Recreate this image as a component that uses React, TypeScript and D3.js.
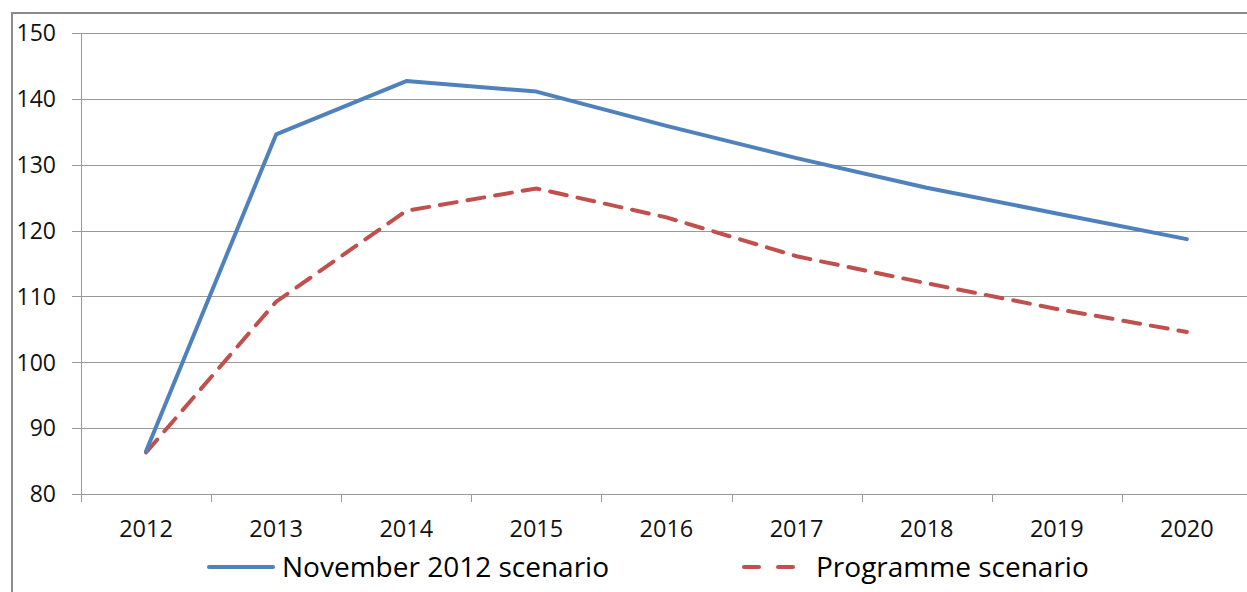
import { useEffect, useRef } from "react";
import * as d3 from "d3";

// Years on the x axis
const years = ["2012", "2013", "2014", "2015", "2016", "2017", "2018", "2019", "2020"];
// Series values
const november2012 = [86.5, 134.6, 142.7, 141.1, 135.9, 131.0, 126.5, 122.6, 118.7];
const programme = [86.3, 109.2, 123.0, 126.4, 122.0, 116.1, 112.0, 108.1, 104.6];
// Y axis ticks
const yTicks = [80, 90, 100, 110, 120, 130, 140, 150];

const seriesNames = ["November 2012 scenario", "Programme scenario"];

const LineChart = () => {
    const ref = useRef<SVGSVGElement | null>(null);

    useEffect(() => {
        if (!ref.current) return;
        const svg = d3.select(ref.current);
        svg.selectAll("*").remove();

        const width = 1247;
        const height = 592;
        const margin = { top: 33, left: 81, bottom: 98 };
        const band = 130.1;
        const font = "'Open Sans', sans-serif";

        const x = d3.scaleBand()
            .domain(years)
            .range([margin.left, margin.left + band * years.length]);

        const y = d3.scaleLinear()
            .domain([80, 150])
            .range([height - margin.bottom, margin.top]);

        // outer frame
        svg.append("path")
            .attr("d", `M12,${height + 5}V13H${width + 5}`)
            .attr("fill", "none")
            .attr("stroke", "#8c8c8c")
            .attr("stroke-width", 2);

        // gridlines
        svg.append("g")
            .selectAll("line")
            .data(yTicks)
            .enter().append("line")
            .attr("x1", margin.left - 9)
            .attr("x2", width + 5)
            .attr("y1", d => Math.round(y(d)) + 0.5)
            .attr("y2", d => Math.round(y(d)) + 0.5)
            .attr("stroke", "#9a9a9a")
            .attr("stroke-width", 1);

        // y axis line
        svg.append("line")
            .attr("x1", margin.left + 0.5)
            .attr("x2", margin.left + 0.5)
            .attr("y1", y(150))
            .attr("y2", y(80))
            .attr("stroke", "#9a9a9a");

        // x tick marks at band edges
        const edges = years.map(d => x(d) as number);
        svg.append("g")
            .selectAll("line")
            .data(edges)
            .enter().append("line")
            .attr("x1", d => Math.round(d) + 0.5)
            .attr("x2", d => Math.round(d) + 0.5)
            .attr("y1", y(80))
            .attr("y2", y(80) + 8)
            .attr("stroke", "#9a9a9a");

        // y labels
        svg.append("g")
            .selectAll("text")
            .data(yTicks)
            .enter().append("text")
            .attr("x", 56)
            .attr("y", d => y(d))
            .attr("dy", "0.36em")
            .attr("text-anchor", "end")
            .attr("font-family", font)
            .attr("font-size", 23)
            .attr("fill", "#111")
            .text(d => d);

        // x labels
        svg.append("g")
            .selectAll("text")
            .data(years)
            .enter().append("text")
            .attr("x", d => (x(d) as number) + x.bandwidth() / 2)
            .attr("y", 529)
            .attr("dy", "0.36em")
            .attr("text-anchor", "middle")
            .attr("font-family", font)
            .attr("font-size", 23.5)
            .attr("fill", "#111")
            .text(d => d);

        const line = d3.line<number>()
            .x((_, i) => (x(years[i]) as number) + x.bandwidth() / 2)
            .y(d => y(d));

        svg.append("path")
            .datum(programme)
            .attr("d", line)
            .attr("fill", "none")
            .attr("stroke", "#C0504D")
            .attr("stroke-width", 4)
            .attr("stroke-dasharray", "17,11")
            .attr("stroke-linecap", "round");

        svg.append("path")
            .datum(november2012)
            .attr("d", line)
            .attr("fill", "none")
            .attr("stroke", "#4F81BD")
            .attr("stroke-width", 4)
            .attr("stroke-linejoin", "round")
            .attr("stroke-linecap", "round");

        // legend
        const lg = svg.append("g").attr("font-family", font).attr("font-size", 28).attr("fill", "#000");
        lg.append("line")
            .attr("x1", 209).attr("x2", 273)
            .attr("y1", 567).attr("y2", 567)
            .attr("stroke", "#4F81BD").attr("stroke-width", 4).attr("stroke-linecap", "round");
        lg.append("text").attr("x", 282).attr("y", 567).attr("dy", "0.36em").text(seriesNames[0]);
        lg.append("line")
            .attr("x1", 744).attr("x2", 795)
            .attr("y1", 567).attr("y2", 567)
            .attr("stroke", "#C0504D").attr("stroke-width", 4).attr("stroke-linecap", "round")
            .attr("stroke-dasharray", "15,19");
        lg.append("text").attr("x", 816).attr("y", 567).attr("dy", "0.36em").text(seriesNames[1]);
    }, []);

    return (
        <svg
            ref={ref}
            width={1247}
            height={592}
            style={{ position: "absolute", left: 0, top: 0, background: "#fff" }}
        />
    );
};

export default function App() {
    return <LineChart />;
}
